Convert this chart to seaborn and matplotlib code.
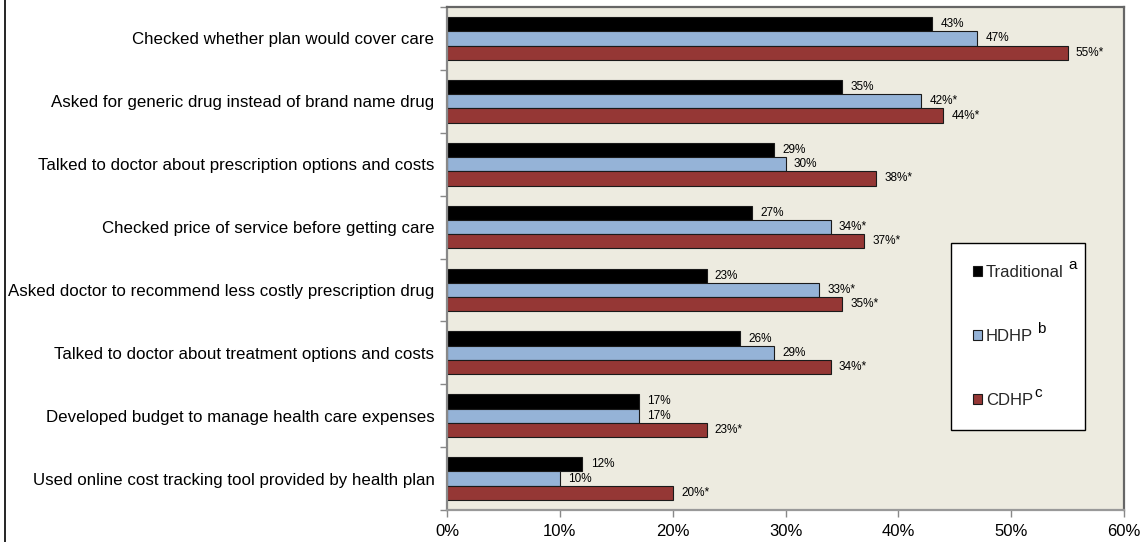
import matplotlib
matplotlib.use("Agg")
import matplotlib.pyplot as plt
from matplotlib.lines import Line2D
from matplotlib.ticker import FixedLocator, PercentFormatter
from matplotlib import font_manager
import seaborn as sns
import pandas as pd

categories = [
    "Checked whether plan would cover care",
    "Asked for generic drug instead of brand name drug",
    "Talked to doctor about prescription options and costs",
    "Checked price of service before getting care",
    "Asked doctor to recommend less costly prescription drug",
    "Talked to doctor about treatment options and costs",
    "Developed budget to manage health care expenses",
    "Used online cost tracking tool provided by health plan",
]
plans = ["Traditional", "HDHP", "CDHP"]
traditional = [43, 35, 29, 27, 23, 26, 17, 12]
hdhp = [47, 42, 30, 34, 33, 29, 17, 10]
cdhp = [55, 44, 38, 37, 35, 34, 23, 20]
# statistically significant differences are flagged with an asterisk
hdhp_sig = [False, True, False, True, True, False, False, False]
cdhp_sig = [True, True, True, True, True, True, True, True]
# footnote markers shown after each plan name in the legend
footnotes = ["a", "b", "c"]
footnote_gap_px = [5, 4, 1]
xticks = [0, 10, 20, 30, 40, 50, 60]

colors = {"Traditional": "#000000", "HDHP": "#95B3D7", "CDHP": "#953735"}

rows = []
for plan, vals in zip(plans, [traditional, hdhp, cdhp]):
    for cat, v in zip(categories, vals):
        rows.append({"Activity": cat, "Plan": plan, "Percent": v})
df = pd.DataFrame(rows)

sns.set_theme(style="white")
plt.rcParams["font.family"] = ["Liberation Sans", "DejaVu Sans"]

installed = {f.name for f in font_manager.fontManager.ttflist}
narrow = "Liberation Sans Narrow" if "Liberation Sans Narrow" in installed else "Liberation Sans"

fig = plt.figure(figsize=(11.46, 5.42), dpi=100)
ax = fig.add_axes([447 / 1146, 32 / 542, 677 / 1146, 503 / 542])

sns.barplot(data=df, y="Activity", x="Percent", hue="Plan", order=categories,
            hue_order=plans, palette=colors, orient="h", width=0.68,
            edgecolor="#1a1a1a", linewidth=0.8, saturation=1, ax=ax)

ax.set_facecolor("#EDEBE0")
ax.set_xlim(0, 60)
ax.set_ylim(len(categories) - 0.5, -0.5)
ax.xaxis.set_major_locator(FixedLocator(xticks))
ax.xaxis.set_major_formatter(PercentFormatter(decimals=0))
ax.set_xlabel("")
ax.set_ylabel("")

# group separators on the category axis
ax.set_yticks([i - 0.5 for i in range(len(categories) + 1)], minor=True)
ax.tick_params(axis="y", which="major", length=0, labelsize=12.2, pad=9, colors="#000000")
ax.tick_params(axis="y", which="minor", left=True, length=5, width=1, color="#888888")
ax.tick_params(axis="x", which="major", bottom=True, length=5, width=1, color="#888888",
               labelsize=12, pad=5, labelcolor="#000000")
for side in ["top", "right", "bottom", "left"]:
    ax.spines[side].set_visible(True)
    ax.spines[side].set_color("#666666")
    ax.spines[side].set_linewidth(1.6)
ax.spines["left"].set_color("#888888")
ax.spines["bottom"].set_color("#999999")

label_sets = [
    [f"{v}%" for v in traditional],
    [f"{v}%" + ("*" if s else "") for v, s in zip(hdhp, hdhp_sig)],
    [f"{v}%" + ("*" if s else "") for v, s in zip(cdhp, cdhp_sig)],
]
for container, labels in zip(ax.containers, label_sets):
    ax.bar_label(container, labels=labels, padding=6, fontsize=8.5,
                 family=narrow, color="#000000")

handles, _ = ax.get_legend_handles_labels()
leg = ax.legend(handles, plans, loc="upper left",
                bbox_to_anchor=((951 - 447) / 677, (510 - 243) / 503),
                frameon=True, fancybox=False, edgecolor="#000000", facecolor="#ffffff",
                fontsize=12, labelspacing=2.96, handlelength=0.55, handleheight=0.55,
                handletextpad=0.25, borderpad=1.3, borderaxespad=0)
leg.get_frame().set_linewidth(1.0)
leg.get_frame().set_alpha(1)

# raised footnote letters next to the legend entries
fig.canvas.draw()
renderer = fig.canvas.get_renderer()
for txt, note, gap in zip(leg.get_texts(), footnotes, footnote_gap_px):
    bb = txt.get_window_extent(renderer)
    fig.text((bb.x1 + gap) / fig.bbox.width, (bb.y1 - 4) / fig.bbox.height, note,
             fontsize=11, ha="left", va="baseline", color="#000000", zorder=10)

fig.add_artist(Line2D([5 / 1146, 5 / 1146], [0, 1], color="#000000", linewidth=1.2))

fig.savefig("out.png", dpi=100, facecolor="white")
